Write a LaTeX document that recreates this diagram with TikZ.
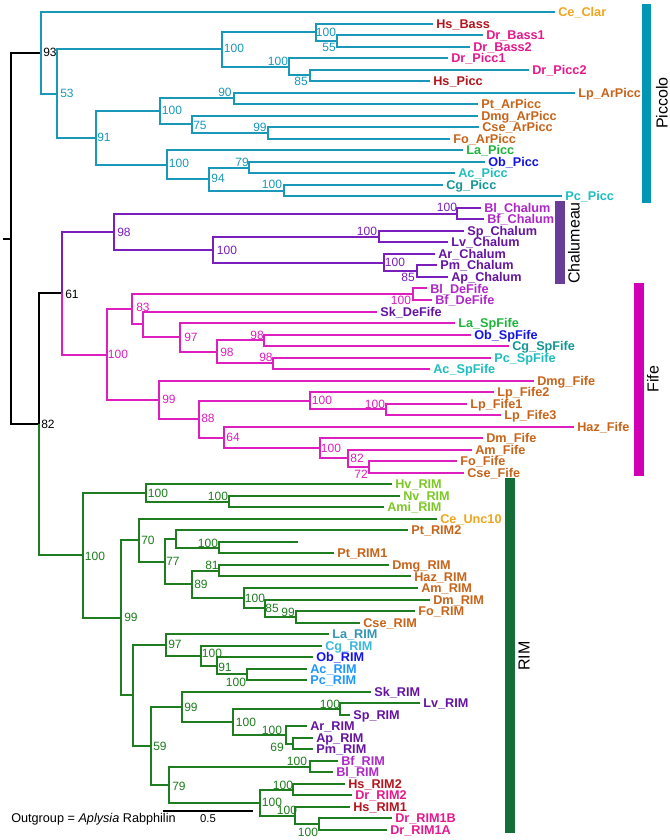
\documentclass[tikz,border=0pt]{standalone}
\usepackage{fontspec}
\setmainfont{Liberation Sans}
\definecolor{cpicc}{RGB}{26,152,186}
\definecolor{cchal}{RGB}{122,30,190}
\definecolor{cfife}{RGB}{222,30,190}
\definecolor{crim}{RGB}{30,125,30}
\definecolor{cpiccbar}{RGB}{0,150,180}
\definecolor{cchalbar}{RGB}{107,61,154}
\definecolor{cfifebar}{RGB}{210,0,180}
\definecolor{crimbar}{RGB}{20,110,55}
\definecolor{cgold}{RGB}{240,165,30}
\definecolor{chs}{RGB}{180,20,30}
\definecolor{cdr}{RGB}{230,25,140}
\definecolor{cbr}{RGB}{200,100,25}
\definecolor{cla}{RGB}{30,180,60}
\definecolor{cob}{RGB}{20,20,230}
\definecolor{ccy}{RGB}{30,190,190}
\definecolor{ctl}{RGB}{20,150,150}
\definecolor{cbl}{RGB}{175,40,200}
\definecolor{cdp}{RGB}{100,20,160}
\definecolor{cyg}{RGB}{125,200,40}
\definecolor{crt}{RGB}{50,150,180}
\definecolor{crc}{RGB}{60,185,215}
\definecolor{caz}{RGB}{30,150,255}
\tikzset{
  br/.style={line width=1.5pt},
  picc/.style={br,draw=cpicc},
  chal/.style={br,draw=cchal},
  fife/.style={br,draw=cfife},
  rim/.style={br,draw=crim},
  blk/.style={br,draw=black},
  lab/.style={anchor=west,font=\bfseries\fontsize{9.5}{10}\selectfont,inner xsep=2.3pt,inner ysep=0pt,text height=6.8pt,text depth=0pt},
  bs/.style={font=\fontsize{9}{10}\selectfont,inner sep=0pt,text height=6.4pt,text depth=0pt},
  barlab/.style={font=\fontsize{12}{13}\selectfont,rotate=90,inner sep=0pt},
}
\begin{document}
\begin{tikzpicture}[x=0.75pt,y=-0.75pt]
\fill[white] (0,0) rectangle (670,840);
\useasboundingbox (0,0) rectangle (670,840);

% ---------- leaves ----------
\node[lab,text=cgold] (L0) at (555,12) {Ce\_Clar};
\node[lab,text=chs] (L1) at (433,23.52) {Hs\_Bass};
\node[lab,text=cdr] (L2) at (483,35.04) {Dr\_Bass1};
\node[lab,text=cdr] (L3) at (470,46.56) {Dr\_Bass2};
\node[lab,text=cdr] (L4) at (448,58.08) {Dr\_Picc1};
\node[lab,text=cdr] (L5) at (529,69.6) {Dr\_Picc2};
\node[lab,text=chs] (L6) at (430,81.12) {Hs\_Picc};
\node[lab,text=cbr] (L7) at (575,92.64) {Lp\_ArPicc};
\node[lab,text=cbr] (L8) at (478,104.16) {Pt\_ArPicc};
\node[lab,text=cbr] (L9) at (478,115.68) {Dmg\_ArPicc};
\node[lab,text=cbr] (L10) at (479,127.2) {Cse\_ArPicc};
\node[lab,text=cbr] (L11) at (450,138.72) {Fo\_ArPicc};
\node[lab,text=cla] (L12) at (463,150.24) {La\_Picc};
\node[lab,text=cob] (L13) at (485,161.76) {Ob\_Picc};
\node[lab,text=ccy] (L14) at (455,173.28) {Ac\_Picc};
\node[lab,text=ctl] (L15) at (443,184.8) {Cg\_Picc};
\node[lab,text=ccy] (L16) at (562,196.32) {Pc\_Picc};
\node[lab,text=cbl] (L17) at (481,207.84) {Bl\_Chalum};
\node[lab,text=cbl] (L18) at (484,219.36) {Bf\_Chalum};
\node[lab,text=cdp] (L19) at (464,230.88) {Sp\_Chalum};
\node[lab,text=cdp] (L20) at (448,242.4) {Lv\_Chalum};
\node[lab,text=cdp] (L21) at (435,253.92) {Ar\_Chalum};
\node[lab,text=cdp] (L22) at (437,265.44) {Pm\_Chalum};
\node[lab,text=cdp] (L23) at (448,276.96) {Ap\_Chalum};
\node[lab,text=cbl] (L24) at (427,288.48) {Bl\_DeFife};
\node[lab,text=cbl] (L25) at (432,300) {Bf\_DeFife};
\node[lab,text=cdp] (L26) at (377,311.52) {Sk\_DeFife};
\node[lab,text=cla] (L27) at (455,323.04) {La\_SpFife};
\node[lab,text=cob] (L28) at (471,334.56) {Ob\_SpFife};
\node[lab,text=ctl] (L29) at (509,346.08) {Cg\_SpFife};
\node[lab,text=ccy] (L30) at (491,357.6) {Pc\_SpFife};
\node[lab,text=ccy] (L31) at (430,369.12) {Ac\_SpFife};
\node[lab,text=cbr] (L32) at (534,380.64) {Dmg\_Fife};
\node[lab,text=cbr] (L33) at (494,392.16) {Lp\_Fife2};
\node[lab,text=cbr] (L34) at (467,403.68) {Lp\_Fife1};
\node[lab,text=cbr] (L35) at (501,415.2) {Lp\_Fife3};
\node[lab,text=cbr] (L36) at (574,426.72) {Haz\_Fife};
\node[lab,text=cbr] (L37) at (483,438.24) {Dm\_Fife};
\node[lab,text=cbr] (L38) at (472,449.76) {Am\_Fife};
\node[lab,text=cbr] (L39) at (457,461.28) {Fo\_Fife};
\node[lab,text=cbr] (L40) at (464,472.8) {Cse\_Fife};
\node[lab,text=cyg] (L41) at (392,484.32) {Hv\_RIM};
\node[lab,text=cyg] (L42) at (400,495.84) {Nv\_RIM};
\node[lab,text=cyg] (L43) at (384,507.36) {Ami\_RIM};
\node[lab,text=cgold] (L44) at (437,518.88) {Ce\_Unc10};
\node[lab,text=cbr] (L45) at (408,530.4) {Pt\_RIM2};
\coordinate (t46) at (298,541.92);
\node[lab,text=cbr] (L47) at (334,553.44) {Pt\_RIM1};
\node[lab,text=cbr] (L48) at (389,564.96) {Dmg\_RIM};
\node[lab,text=cbr] (L49) at (411,576.48) {Haz\_RIM};
\node[lab,text=cbr] (L50) at (418,588) {Am\_RIM};
\node[lab,text=cbr] (L51) at (430,599.52) {Dm\_RIM};
\node[lab,text=cbr] (L52) at (415,611.04) {Fo\_RIM};
\node[lab,text=cbr] (L53) at (360,622.56) {Cse\_RIM};
\node[lab,text=crt] (L54) at (329,634.08) {La\_RIM};
\node[lab,text=crc] (L55) at (322,645.6) {Cg\_RIM};
\node[lab,text=cob] (L56) at (313,657.12) {Ob\_RIM};
\node[lab,text=caz] (L57) at (307,668.64) {Ac\_RIM};
\node[lab,text=caz] (L58) at (307,680.16) {Pc\_RIM};
\node[lab,text=cdp] (L59) at (371,691.68) {Sk\_RIM};
\node[lab,text=cdp] (L60) at (420,703.2) {Lv\_RIM};
\node[lab,text=cdp] (L61) at (350,714.72) {Sp\_RIM};
\node[lab,text=cdp] (L62) at (307,726.24) {Ar\_RIM};
\node[lab,text=cdp] (L63) at (313,737.76) {Ap\_RIM};
\node[lab,text=cdp] (L64) at (313,749.28) {Pm\_RIM};
\node[lab,text=cbl] (L65) at (338,760.8) {Bf\_RIM};
\node[lab,text=cbl] (L66) at (333,772.32) {Bl\_RIM};
\node[lab,text=chs] (L67) at (345,783.84) {Hs\_RIM2};
\node[lab,text=cdr] (L68) at (352,795.36) {Dr\_RIM2};
\node[lab,text=chs] (L69) at (350,806.88) {Hs\_RIM1};
\node[lab,text=cdr] (L70) at (392,818.4) {Dr\_RIM1B};
\node[lab,text=cdr] (L71) at (387,829.92) {Dr\_RIM1A};

% ---------- internal nodes ----------
\coordinate (root) at (11,238.55);
\coordinate (tick) at (3,238.55);
\coordinate (n93) at (41,52.86);
\coordinate (n53) at (57,93.72);
\coordinate (n100b) at (222,49.44);
\coordinate (n100c) at (316,32.16);
\coordinate (n55) at (337,40.8);
\coordinate (n100d) at (289,66.72);
\coordinate (n85a) at (310,75.36);
\coordinate (n91) at (96,138);
\coordinate (n100e) at (160,111.36);
\coordinate (n90) at (234,98.4);
\coordinate (n75) at (192,124.32);
\coordinate (n99a) at (268,132.96);
\coordinate (n100g) at (167,164.64);
\coordinate (n94) at (209,179.04);
\coordinate (n79a) at (249,167.52);
\coordinate (n100f) at (284,190.56);
\coordinate (n82) at (39,424.245);
\coordinate (n61) at (62,293.115);
\coordinate (n98a) at (114,231.6);
\coordinate (n100h) at (457,213.6);
\coordinate (n100k) at (213,249.6);
\coordinate (n100i) at (379,236.64);
\coordinate (n100j) at (384,262.56);
\coordinate (n85b) at (417,271.2);
\coordinate (n100p) at (107,354.63);
\coordinate (n83) at (132,309.36);
\coordinate (n100l) at (413,294.24);
\coordinate (nB) at (143,324.48);
\coordinate (n97a) at (180,337.44);
\coordinate (n98d) at (217,351.84);
\coordinate (n98b) at (264,340.32);
\coordinate (n98c) at (273,363.36);
\coordinate (n99b) at (159,399.9);
\coordinate (n88) at (199,419.16);
\coordinate (n100n) at (310,400.8);
\coordinate (n100m) at (386,409.44);
\coordinate (n64) at (224,437.52);
\coordinate (n100o) at (320,448.32);
\coordinate (n82b) at (348,458.4);
\coordinate (n72) at (369,467.04);
\coordinate (n100R) at (83,555.375);
\coordinate (n100q) at (146,492.96);
\coordinate (n100r) at (229,501.6);
\coordinate (n99e) at (121,617.79);
\coordinate (n70) at (139,540.3);
\coordinate (n77) at (165,561.72);
\coordinate (nC) at (176,539.04);
\coordinate (n100s) at (219,547.68);
\coordinate (n89) at (192,584.4);
\coordinate (n81) at (219,570.72);
\coordinate (n100t) at (244,598.08);
\coordinate (n85c) at (265,608.16);
\coordinate (n99c) at (296,616.8);
\coordinate (nD) at (133,695.28);
\coordinate (n97b) at (166,644.88);
\coordinate (n100v) at (201,655.68);
\coordinate (n91b) at (217,665.76);
\coordinate (n100u) at (247,674.4);
\coordinate (n59) at (151,745.68);
\coordinate (n99d) at (182,706.8);
\coordinate (n100y) at (233,721.92);
\coordinate (n100w) at (340,708.96);
\coordinate (n100x) at (286,734.88);
\coordinate (n69) at (293,743.52);
\coordinate (n79b) at (169,784.56);
\coordinate (n100z) at (310,766.56);
\coordinate (n100ad) at (260,802.56);
\coordinate (n100aa) at (293,789.6);
\coordinate (n100ab) at (295,815.52);
\coordinate (n100ac) at (319,824.16);

% ---------- black backbone ----------
\draw[blk] (tick) -- (root);
\draw[blk] (root) |- (n93);
\draw[blk] (root) |- (n82);
\draw[blk] (n82) |- (n61);

% ---------- Piccolo ----------
\draw[picc] (n93) |- (L0.west);
\draw[picc] (n93) |- (n53);
\draw[picc] (n53) |- (n100b);
\draw[picc] (n53) |- (n91);
\draw[picc] (n100b) |- (n100c);
\draw[picc] (n100b) |- (n100d);
\draw[picc] (n100c) |- (L1.west);
\draw[picc] (n100c) |- (n55);
\draw[picc] (n55) |- (L2.west);
\draw[picc] (n55) |- (L3.west);
\draw[picc] (n100d) |- (L4.west);
\draw[picc] (n100d) |- (n85a);
\draw[picc] (n85a) |- (L5.west);
\draw[picc] (n85a) |- (L6.west);
\draw[picc] (n91) |- (n100e);
\draw[picc] (n91) |- (n100g);
\draw[picc] (n100e) |- (n90);
\draw[picc] (n100e) |- (n75);
\draw[picc] (n90) |- (L7.west);
\draw[picc] (n90) |- (L8.west);
\draw[picc] (n75) |- (L9.west);
\draw[picc] (n75) |- (n99a);
\draw[picc] (n99a) |- (L10.west);
\draw[picc] (n99a) |- (L11.west);
\draw[picc] (n100g) |- (L12.west);
\draw[picc] (n100g) |- (n94);
\draw[picc] (n94) |- (n79a);
\draw[picc] (n94) |- (n100f);
\draw[picc] (n79a) |- (L13.west);
\draw[picc] (n79a) |- (L14.west);
\draw[picc] (n100f) |- (L15.west);
\draw[picc] (n100f) |- (L16.west);

% ---------- Chalumeau ----------
\draw[chal] (n61) |- (n98a);
\draw[chal] (n98a) |- (n100h);
\draw[chal] (n98a) |- (n100k);
\draw[chal] (n100h) |- (L17.west);
\draw[chal] (n100h) |- (L18.west);
\draw[chal] (n100k) |- (n100i);
\draw[chal] (n100k) |- (n100j);
\draw[chal] (n100i) |- (L19.west);
\draw[chal] (n100i) |- (L20.west);
\draw[chal] (n100j) |- (L21.west);
\draw[chal] (n100j) |- (n85b);
\draw[chal] (n85b) |- (L22.west);
\draw[chal] (n85b) |- (L23.west);

% ---------- Fife ----------
\draw[fife] (n61) |- (n100p);
\draw[fife] (n100p) |- (n83);
\draw[fife] (n100p) |- (n99b);
\draw[fife] (n83) |- (n100l);
\draw[fife] (n83) |- (nB);
\draw[fife] (n100l) |- (L24.west);
\draw[fife] (n100l) |- (L25.west);
\draw[fife] (nB) |- (L26.west);
\draw[fife] (nB) |- (n97a);
\draw[fife] (n97a) |- (L27.west);
\draw[fife] (n97a) |- (n98d);
\draw[fife] (n98d) |- (n98b);
\draw[fife] (n98d) |- (n98c);
\draw[fife] (n98b) |- (L28.west);
\draw[fife] (n98b) |- (L29.west);
\draw[fife] (n98c) |- (L30.west);
\draw[fife] (n98c) |- (L31.west);
\draw[fife] (n99b) |- (L32.west);
\draw[fife] (n99b) |- (n88);
\draw[fife] (n88) |- (n100n);
\draw[fife] (n88) |- (n64);
\draw[fife] (n100n) |- (L33.west);
\draw[fife] (n100n) |- (n100m);
\draw[fife] (n100m) |- (L34.west);
\draw[fife] (n100m) |- (L35.west);
\draw[fife] (n64) |- (L36.west);
\draw[fife] (n64) |- (n100o);
\draw[fife] (n100o) |- (L37.west);
\draw[fife] (n100o) |- (n82b);
\draw[fife] (n82b) |- (L38.west);
\draw[fife] (n82b) |- (n72);
\draw[fife] (n72) |- (L39.west);
\draw[fife] (n72) |- (L40.west);

% ---------- RIM ----------
\draw[rim] (n82) |- (n100R);
\draw[rim] (n100R) |- (n100q);
\draw[rim] (n100R) |- (n99e);
\draw[rim] (n100q) |- (L41.west);
\draw[rim] (n100q) |- (n100r);
\draw[rim] (n100r) |- (L42.west);
\draw[rim] (n100r) |- (L43.west);
\draw[rim] (n99e) |- (n70);
\draw[rim] (n99e) |- (nD);
\draw[rim] (n70) |- (L44.west);
\draw[rim] (n70) |- (n77);
\draw[rim] (n77) |- (nC);
\draw[rim] (n77) |- (n89);
\draw[rim] (nC) |- (L45.west);
\draw[rim] (nC) |- (n100s);
\draw[rim] (n100s) |- (t46);
\draw[rim] (n100s) |- (L47.west);
\draw[rim] (n89) |- (n81);
\draw[rim] (n89) |- (n100t);
\draw[rim] (n81) |- (L48.west);
\draw[rim] (n81) |- (L49.west);
\draw[rim] (n100t) |- (L50.west);
\draw[rim] (n100t) |- (n85c);
\draw[rim] (n85c) |- (L51.west);
\draw[rim] (n85c) |- (n99c);
\draw[rim] (n99c) |- (L52.west);
\draw[rim] (n99c) |- (L53.west);
\draw[rim] (nD) |- (n97b);
\draw[rim] (nD) |- (n59);
\draw[rim] (n97b) |- (L54.west);
\draw[rim] (n97b) |- (n100v);
\draw[rim] (n100v) |- (L55.west);
\draw[rim] (n100v) |- (n91b);
\draw[rim] (n91b) |- (L56.west);
\draw[rim] (n91b) |- (n100u);
\draw[rim] (n100u) |- (L57.west);
\draw[rim] (n100u) |- (L58.west);
\draw[rim] (n59) |- (n99d);
\draw[rim] (n59) |- (n79b);
\draw[rim] (n99d) |- (L59.west);
\draw[rim] (n99d) |- (n100y);
\draw[rim] (n100y) |- (n100w);
\draw[rim] (n100y) |- (n100x);
\draw[rim] (n100w) |- (L60.west);
\draw[rim] (n100w) |- (L61.west);
\draw[rim] (n100x) |- (L62.west);
\draw[rim] (n100x) |- (n69);
\draw[rim] (n69) |- (L63.west);
\draw[rim] (n69) |- (L64.west);
\draw[rim] (n79b) |- (n100z);
\draw[rim] (n79b) |- (n100ad);
\draw[rim] (n100z) |- (L65.west);
\draw[rim] (n100z) |- (L66.west);
\draw[rim] (n100ad) |- (n100aa);
\draw[rim] (n100ad) |- (n100ab);
\draw[rim] (n100aa) |- (L67.west);
\draw[rim] (n100aa) |- (L68.west);
\draw[rim] (n100ab) |- (L69.west);
\draw[rim] (n100ab) |- (n100ac);
\draw[rim] (n100ac) |- (L70.west);
\draw[rim] (n100ac) |- (L71.west);

% ---------- bootstrap values ----------
\node[bs,text=black] (b1) at (50,52) {93};
\node[bs,text=cpicc] (b2) at (67,93) {53};
\node[bs,text=cpicc] (b3) at (234,48) {100};
\node[bs,text=cpicc] (b4) at (326,32) {100};
\node[bs,text=cpicc] (b5) at (329,47.5) {55};
\node[bs,text=cpicc] (b6) at (278,61) {100};
\node[bs,text=cpicc] (b7) at (301,81) {85};
\node[bs,text=cpicc] (b8) at (104,137) {91};
\node[bs,text=cpicc] (b9) at (172,110) {100};
\node[bs,text=cpicc] (b10) at (225,92) {90};
\node[bs,text=cpicc] (b11) at (200,125) {75};
\node[bs,text=cpicc] (b12) at (260,127) {99};
\node[bs,text=cpicc] (b13) at (179,163) {100};
\node[bs,text=cpicc] (b14) at (218,178) {94};
\node[bs,text=cpicc] (b15) at (242,162) {79};
\node[bs,text=cpicc] (b16) at (272,184) {100};
\node[bs,text=black] (b17) at (72,294) {61};
\node[bs,text=cchal] (b18) at (124,232) {98};
\node[bs,text=cchal] (b19) at (227,250) {100};
\node[bs,text=cchal] (b20) at (447,207) {100};
\node[bs,text=cchal] (b21) at (367,231) {100};
\node[bs,text=cchal] (b22) at (395,262) {100};
\node[bs,text=cchal] (b23) at (408,277) {85};
\node[bs,text=cfife] (b24) at (401,300) {100};
\node[bs,text=cfife] (b25) at (143,307) {83};
\node[bs,text=cfife] (b26) at (118,354) {100};
\node[bs,text=cfife] (b27) at (191,337) {97};
\node[bs,text=cfife] (b28) at (227,352) {98};
\node[bs,text=cfife] (b29) at (257,335) {98};
\node[bs,text=cfife] (b30) at (266,357) {98};
\node[bs,text=cfife] (b31) at (169,399) {99};
\node[bs,text=cfife] (b32) at (208,418) {88};
\node[bs,text=cfife] (b33) at (233,437) {64};
\node[bs,text=cfife] (b34) at (322,400) {100};
\node[bs,text=cfife] (b35) at (375,404) {100};
\node[bs,text=cfife] (b36) at (331,448) {100};
\node[bs,text=cfife] (b37) at (357,458) {82};
\node[bs,text=cfife] (b38) at (361,474) {72};
\node[bs,text=black] (b39) at (48,424) {82};
\node[bs,text=crim] (b40) at (95,556) {100};
\node[bs,text=crim] (b41) at (158,493) {100};
\node[bs,text=crim] (b42) at (218,496) {100};
\node[bs,text=crim] (b43) at (148,540) {70};
\node[bs,text=crim] (b44) at (173,561) {77};
\node[bs,text=crim] (b45) at (208,543) {100};
\node[bs,text=crim] (b46) at (201,584) {89};
\node[bs,text=crim] (b47) at (212,565) {81};
\node[bs,text=crim] (b48) at (255,598) {100};
\node[bs,text=crim] (b49) at (272,608) {85};
\node[bs,text=crim] (b50) at (288,612) {99};
\node[bs,text=crim] (b51) at (131,617) {99};
\node[bs,text=crim] (b52) at (175,644) {97};
\node[bs,text=crim] (b53) at (212,653) {100};
\node[bs,text=crim] (b54) at (225,667) {91};
\node[bs,text=crim] (b55) at (236,682) {100};
\node[bs,text=crim] (b56) at (191,707) {99};
\node[bs,text=crim] (b57) at (246,722) {100};
\node[bs,text=crim] (b58) at (330,704) {100};
\node[bs,text=crim] (b59) at (272,730) {100};
\node[bs,text=crim] (b60) at (277,747) {69};
\node[bs,text=crim] (b61) at (160,746) {59};
\node[bs,text=crim] (b62) at (179,786) {79};
\node[bs,text=crim] (b63) at (297,761) {100};
\node[bs,text=crim] (b64) at (272,802) {100};
\node[bs,text=crim] (b65) at (283,785) {100};
\node[bs,text=crim] (b66) at (287,810) {100};
\node[bs,text=crim] (b67) at (308,832) {100};

% ---------- clade bars ----------
\fill[cpiccbar] (642,4) rectangle (651,203);
\node[barlab] (piccl) at (662,103) {Piccolo};
\fill[cchalbar] (555,201) rectangle (565,284);
\node[barlab] (chall) at (574,243) {Chalumeau};
\fill[cfifebar] (634,283) rectangle (644,476);
\node[barlab] (fifel) at (653,379) {Fife};
\fill[crimbar] (505,478) rectangle (515,833);
\node[barlab] (riml) at (524,656) {RIM};

% ---------- outgroup and scale ----------
\node[anchor=west,inner sep=0pt,font=\fontsize{9.5}{11}\selectfont] (og) at (11,819) {Outgroup = \textit{Aplysia} Rabphilin};
\coordinate (sb1) at (163,811);
\coordinate (sb2) at (253,811);
\draw[line width=0.8pt] (sb1) -- (sb2);
\node[inner sep=0pt,font=\fontsize{8.5}{10}\selectfont] (sbl) at (208,818.5) {0.5};
\end{tikzpicture}
\end{document}
